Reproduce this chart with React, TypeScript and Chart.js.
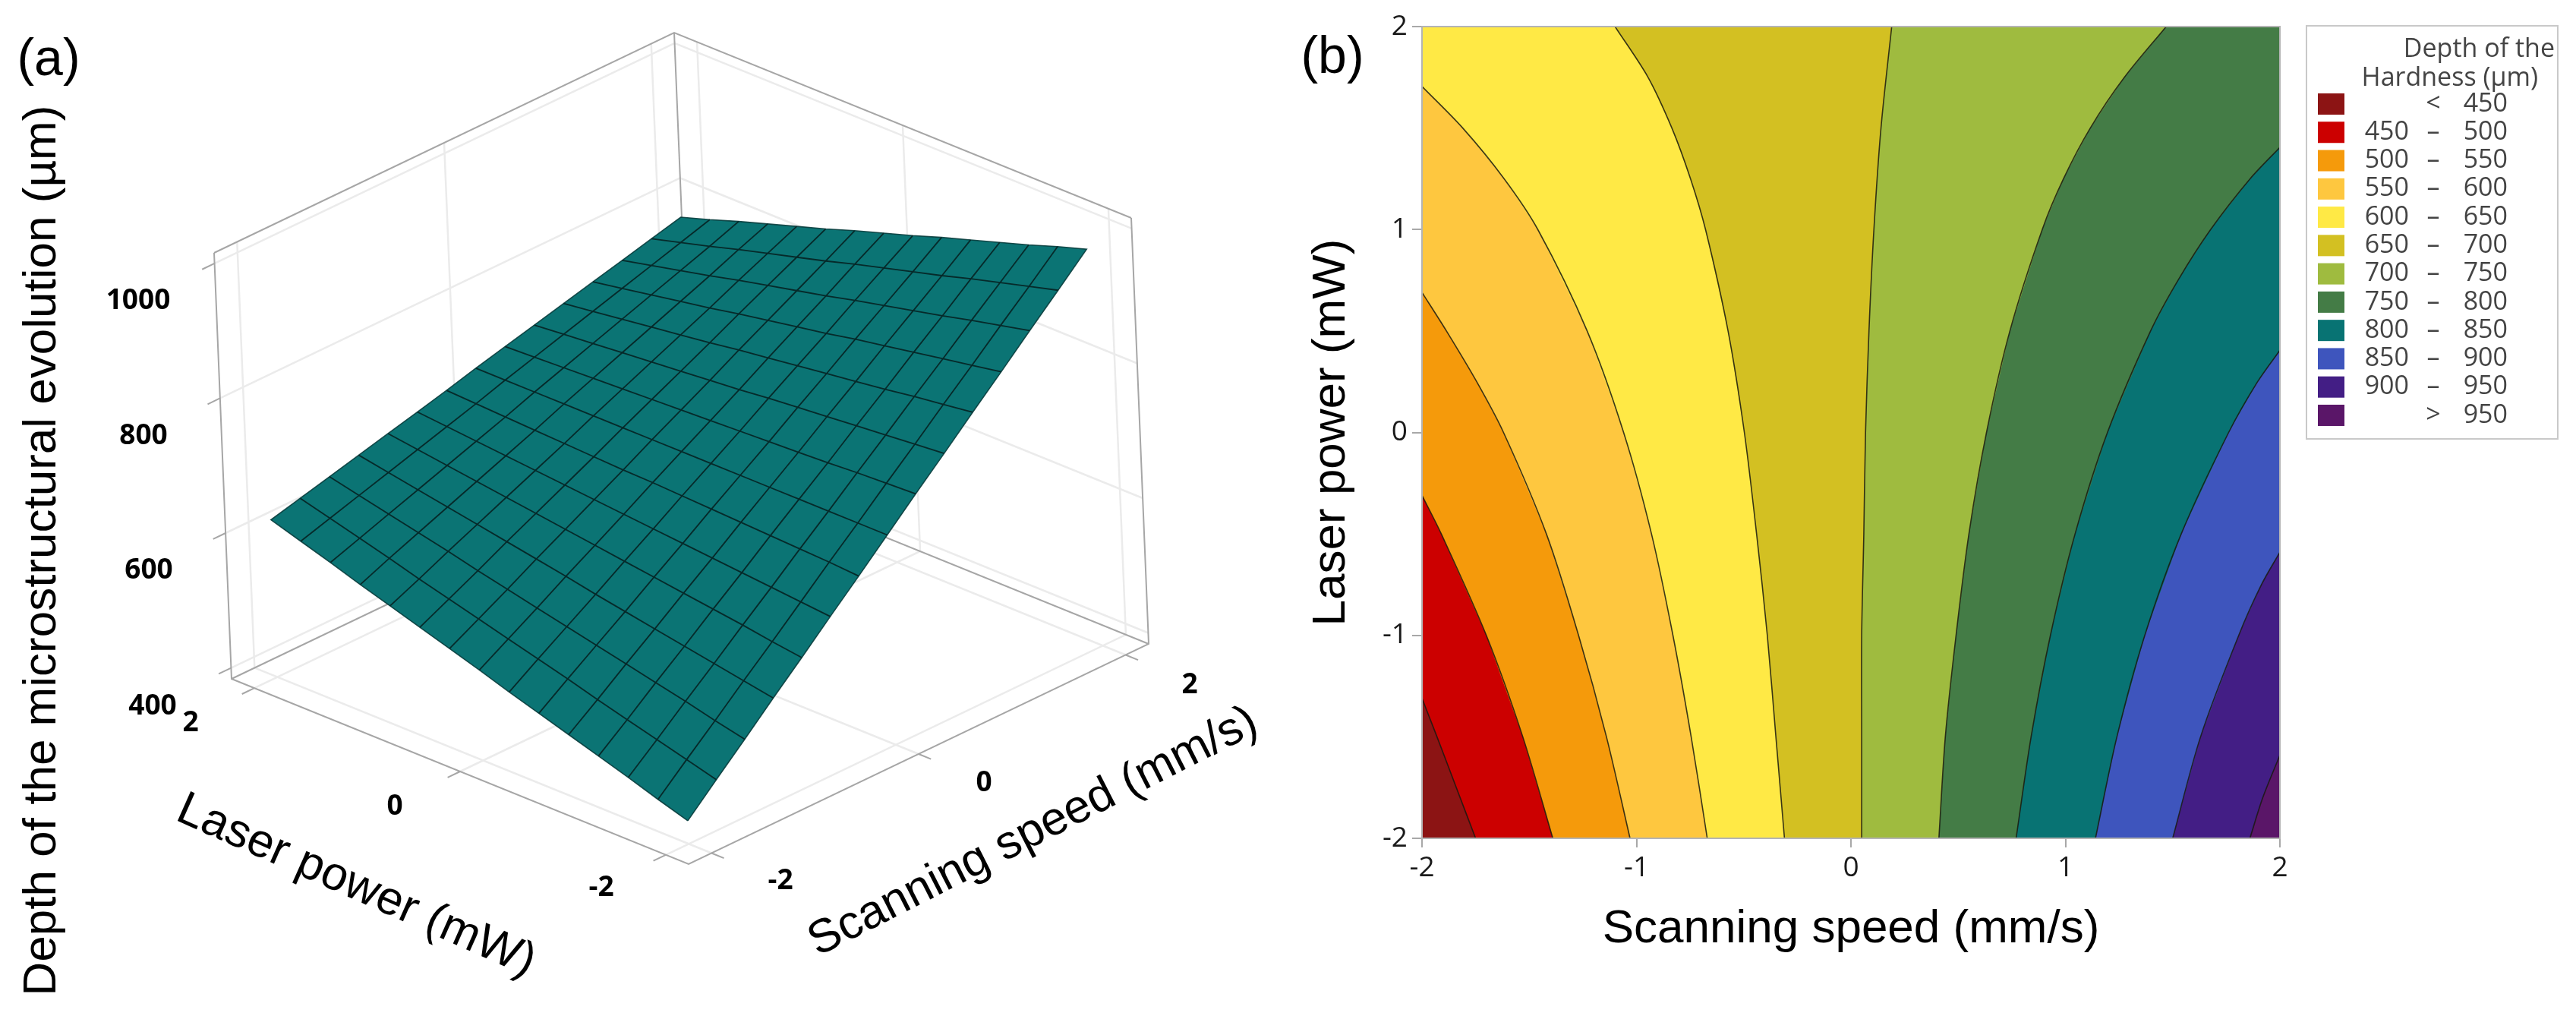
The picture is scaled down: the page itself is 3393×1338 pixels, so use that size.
import React, { useEffect, useRef } from "react";
import { Chart, registerables } from "chart.js";

Chart.register(...registerables);

// ---------- data ----------
const panelLabels = ["(a)", "(b)"];
const speedTitle = "Scanning speed (mm/s)";
const laserTitle = "Laser power (mW)";
const depthTitle = "Depth of the microstructural evolution (µm)";
const legendTitle = ["Depth of the", "Hardness (µm)"];

const laserTicks = [-2, 0, 2];
const speedTicks = [-2, 0, 2];
const depthTicks = [400, 600, 800, 1000];

// surface nodes: rows run from laser -2 to laser 2, columns from speed -2 to speed 2
const laserNodes = [-2, -1.714, -1.429, -1.143, -0.857, -0.571, -0.286, 0, 0.286, 0.571, 0.857, 1.143, 1.429, 1.714, 2];
const speedNodes = [-2, -1.714, -1.429, -1.143, -0.857, -0.571, -0.286, 0, 0.286, 0.571, 0.857, 1.143, 1.429, 1.714, 2];
const surfaceDepth = [
  [418, 458, 497, 537, 576, 616, 655, 695, 735, 774, 814, 853, 893, 932, 972],
  [432, 470, 507, 545, 582, 620, 658, 695, 733, 770, 808, 845, 883, 920, 958],
  [447, 482, 518, 553, 589, 624, 660, 695, 731, 766, 802, 837, 873, 908, 943],
  [461, 494, 528, 561, 595, 628, 662, 695, 728, 762, 795, 829, 862, 896, 929],
  [475, 506, 538, 569, 601, 632, 664, 695, 726, 758, 789, 821, 852, 883, 915],
  [489, 519, 548, 577, 607, 636, 666, 695, 724, 754, 783, 813, 842, 871, 901],
  [503, 531, 558, 585, 613, 640, 668, 695, 722, 750, 777, 804, 832, 859, 886],
  [518, 543, 568, 594, 619, 644, 670, 695, 720, 745, 771, 796, 821, 847, 872],
  [532, 555, 578, 602, 625, 648, 671, 695, 718, 741, 765, 788, 811, 834, 858],
  [546, 567, 588, 610, 631, 652, 673, 695, 716, 737, 758, 780, 801, 822, 843],
  [560, 579, 599, 618, 637, 656, 675, 695, 714, 733, 752, 771, 791, 810, 829],
  [574, 592, 609, 626, 643, 660, 677, 695, 712, 729, 746, 763, 780, 798, 815],
  [589, 604, 619, 634, 649, 664, 679, 695, 710, 725, 740, 755, 770, 785, 801],
  [603, 616, 629, 642, 655, 668, 681, 695, 708, 721, 734, 747, 760, 773, 786],
  [617, 628, 639, 650, 661, 672, 683, 695, 706, 717, 728, 739, 750, 761, 772],
];

// contour lines of panel (b), each as [speed, laser] pairs
const contour450 = [[-1.75, -2], [-1.84, -1.75], [-1.93, -1.5], [-2, -1.31]];
const contour500 = [[-1.39, -2], [-1.53, -1.5], [-1.7, -1], [-1.91, -0.5], [-2, -0.31]];
const contour550 = [[-1.03, -2], [-1.14, -1.5], [-1.27, -1], [-1.42, -0.5], [-1.62, 0], [-1.745, 0.25], [-1.886, 0.5], [-2, 0.69]];
const contour600 = [[-0.67, -2], [-0.745, -1.5], [-0.83, -1], [-0.93, -0.5], [-1.06, 0], [-1.23, 0.5], [-1.46, 1], [-1.617, 1.25], [-1.81, 1.5], [-2, 1.705]];
const contour650 = [[-0.31, -2], [-0.35, -1.5], [-0.39, -1], [-0.44, -0.5], [-0.497, 0], [-0.573, 0.5], [-0.678, 1], [-0.748, 1.25], [-0.835, 1.5], [-0.946, 1.75], [-1.1, 2]];
const contour700 = [[0.05, -2], [0.05, -1.5], [0.05, -1], [0.06, -0.5], [0.068, 0], [0.084, 0.5], [0.107, 1], [0.14, 1.5], [0.19, 2]];
const contour750 = [[0.41, -2], [0.44, -1.5], [0.49, -1], [0.55, -0.5], [0.632, 0], [0.741, 0.5], [0.892, 1], [0.991, 1.25], [1.116, 1.5], [1.275, 1.75], [1.47, 2]];
const contour800 = [[0.77, -2], [0.84, -1.5], [0.93, -1], [1.045, -0.5], [1.196, 0], [1.397, 0.5], [1.525, 0.75], [1.677, 1], [1.861, 1.25], [2, 1.405]];
const contour850 = [[1.14, -2], [1.24, -1.5], [1.37, -1], [1.54, -0.5], [1.761, 0], [1.896, 0.25], [2, 0.405]];
const contour900 = [[1.5, -2], [1.63, -1.5], [1.808, -1], [1.914, -0.75], [2, -0.59]];
const contour950 = [[1.86, -2], [1.92, -1.8], [2, -1.59]];
const contours = [contour450, contour500, contour550, contour600, contour650, contour700, contour750, contour800, contour850, contour900, contour950];

const bandColors = ["#8c1414", "#cc0000", "#f59a0b", "#fec73f", "#ffe945", "#d3c022", "#9fbb3f", "#447c46", "#087373", "#3e55bd", "#431e85", "#5a1668"];
const bandLow = ["", "450", "500", "550", "600", "650", "700", "750", "800", "850", "900", ""];
const bandSign = ["<", "–", "–", "–", "–", "–", "–", "–", "–", "–", "–", ">"];
const bandHigh = ["450", "500", "550", "600", "650", "700", "750", "800", "850", "900", "950", "950"];

// ---------- style ----------
const TEAL = "#0b7474";
const BOX = "#a6a6a6";
const WALL = "#ebebeb";
const ARIAL = '"Liberation Sans", Arial, sans-serif';
const TICKFONT = '"Open Sans", sans-serif';

const W = 3393;
const H = 1338;
const SPLIT = 1700;

// ---------- projection of the 3-D box on the pixel-valued scales of panel (a) ----------
const EDGE = 2.222;
const Z0 = 383.7;
const Z1 = 1015.7;
function project(laser: number, speed: number, depth: number) {
  const s = (EDGE - laser) / (2 * EDGE);
  const t = (speed + EDGE) / (2 * EDGE);
  const w = (depth - Z0) / (Z1 - Z0);
  return { x: 305 + 602 * s + 606 * t - 23 * w, y: 894 + 244 * s - 290 * t - 561 * w };
}

function seg(points: { x: number; y: number }[], color: string, width: number, extra: any = {}) {
  return { data: points, showLine: true, pointRadius: 0, borderColor: color, borderWidth: width, fill: false, tension: 0, ...extra };
}

function surfaceChartDatasets() {
  const out: any[] = [];
  const P = project;
  // wall and floor grid
  depthTicks.forEach((z) => {
    out.push(seg([P(EDGE, -EDGE, z), P(EDGE, EDGE, z), P(-EDGE, EDGE, z)], WALL, 2.5));
  });
  speedTicks.forEach((v) => {
    out.push(seg([P(-EDGE, v, Z0), P(EDGE, v, Z0), P(EDGE, v, Z1)], WALL, 2.5));
  });
  laserTicks.forEach((v) => {
    out.push(seg([P(v, -EDGE, Z0), P(v, EDGE, Z0), P(v, EDGE, Z1)], WALL, 2.5));
  });
  // box edges
  out.push(seg([P(EDGE, -EDGE, Z1), P(EDGE, -EDGE, Z0), P(-EDGE, -EDGE, Z0), P(-EDGE, EDGE, Z0), P(-EDGE, EDGE, Z1)], BOX, 2));
  out.push(seg([P(EDGE, -EDGE, Z1), P(EDGE, EDGE, Z1), P(-EDGE, EDGE, Z1)], BOX, 2));
  out.push(seg([P(EDGE, -EDGE, Z0), P(EDGE, EDGE, Z0), P(-EDGE, EDGE, Z0)], BOX, 2));
  out.push(seg([P(EDGE, EDGE, Z0), P(EDGE, EDGE, Z1)], BOX, 2));
  // tick marks
  const len = 0.12;
  depthTicks.forEach((z) => out.push(seg([P(EDGE, -EDGE, z), P(EDGE, -EDGE - len, z)], BOX, 2)));
  laserTicks.forEach((v) => out.push(seg([P(v, -EDGE, Z0), P(v, -EDGE - len, Z0)], BOX, 2)));
  speedTicks.forEach((v) => out.push(seg([P(-EDGE, v, Z0), P(-EDGE - len, v, Z0)], BOX, 2)));
  // surface
  const n = laserNodes.length;
  const m = speedNodes.length;
  const node = (i: number, j: number) => P(laserNodes[i], speedNodes[j], surfaceDepth[i][j]);
  const outline: { x: number; y: number }[] = [];
  for (let j = 0; j < m; j++) outline.push(node(0, j));
  for (let i = 1; i < n; i++) outline.push(node(i, m - 1));
  for (let j = m - 2; j >= 0; j--) outline.push(node(n - 1, j));
  for (let i = n - 2; i >= 0; i--) outline.push(node(i, 0));
  out.push(seg(outline, "rgba(8,60,60,0.9)", 1.6, { fill: "shape", backgroundColor: TEAL }));
  for (let i = 1; i < n - 1; i++) out.push(seg(speedNodes.map((_, j) => node(i, j)), "#062a2a", 1.8));
  for (let j = 1; j < m - 1; j++) out.push(seg(laserNodes.map((_, i) => node(i, j)), "#062a2a", 1.8));
  return out.map((d, i) => ({ ...d, order: out.length - i }));
}

function contourChartDatasets() {
  const out: any[] = [];
  const toXY = (p: number[]) => ({ x: p[0], y: p[1] });
  const corners = [[-2, -2], [-2, 2], [2, 2], [2, -2]];
  out.push(seg(corners.map(toXY), "transparent", 0, { fill: "shape", backgroundColor: bandColors[0] }));
  contours.forEach((c, k) => {
    const last = c[c.length - 1];
    const closing: number[][] = [];
    if (last[0] === -2) closing.push([-2, 2]);
    if (last[0] < 2) closing.push([2, 2]);
    closing.push([2, -2]);
    out.push(seg([...c, ...closing].map(toXY), "transparent", 0, { fill: "shape", backgroundColor: bandColors[k + 1] }));
  });
  contours.forEach((c) => {
    out.push(seg(c.map(toXY), "rgba(25,25,15,0.85)", 1.6, { tension: 0.3 }));
  });
  return out.map((d, i) => ({ ...d, order: out.length - i }));
}

function rotatedText(ctx: CanvasRenderingContext2D, text: string, x: number, y: number, deg: number, font: string, color = "#000") {
  ctx.save();
  ctx.translate(x, y);
  ctx.rotate((deg * Math.PI) / 180);
  ctx.font = font;
  ctx.fillStyle = color;
  ctx.textAlign = "center";
  ctx.textBaseline = "middle";
  ctx.fillText(text, 0, 0);
  ctx.restore();
}

const surfaceLabels = {
  id: "surfaceLabels",
  afterDraw(chart: any) {
    const ctx: CanvasRenderingContext2D = chart.ctx;
    const bold = `700 37px ${TICKFONT}`;
    rotatedText(ctx, panelLabels[0], 64, 80, 0, `68px ${ARIAL}`);
    rotatedText(ctx, depthTitle, 56, 725, -90, `62px ${ARIAL}`);
    rotatedText(ctx, laserTitle, 469, 1167, 24, `62px ${ARIAL}`);
    rotatedText(ctx, speedTitle, 1361, 1096, -27, `62px ${ARIAL}`);
    const depthPlaces = [[201, 930], [196, 751], [189, 574], [182, 396]];
    depthTicks.forEach((z, i) => rotatedText(ctx, String(z), depthPlaces[i][0], depthPlaces[i][1], 0, bold));
    const laserPlaces = [[792, 1169], [520, 1062], [251, 952]];
    laserTicks.forEach((v, i) => rotatedText(ctx, String(v), laserPlaces[i][0], laserPlaces[i][1], 0, bold));
    const speedPlaces = [[1028, 1160], [1296, 1031], [1567, 902]];
    speedTicks.forEach((v, i) => rotatedText(ctx, String(v), speedPlaces[i][0], speedPlaces[i][1], 0, bold));
  },
};

const contourDecor = {
  id: "contourDecor",
  afterDraw(chart: any) {
    const ctx: CanvasRenderingContext2D = chart.ctx;
    const a = chart.chartArea;
    ctx.save();
    ctx.strokeStyle = "#b4b4b4";
    ctx.lineWidth = 2;
    ctx.strokeRect(a.left, a.top, a.right - a.left, a.bottom - a.top);
    rotatedText(ctx, panelLabels[1], 55, 77, 0, `68px ${ARIAL}`);
    // legend
    const lx = 3038 - SPLIT;
    ctx.strokeStyle = "#c9c9c9";
    ctx.strokeRect(lx, 34, 331, 544);
    const text = "#444";
    const font = `34px ${TICKFONT}`;
    ctx.font = font;
    ctx.fillStyle = text;
    ctx.textBaseline = "middle";
    ctx.textAlign = "right";
    ctx.fillText(legendTitle[0], 3365 - SPLIT, 65);
    ctx.fillText(legendTitle[1], 3343 - SPLIT, 103);
    bandColors.forEach((c, i) => {
      const y = 137 + i * 37.27;
      ctx.fillStyle = c;
      ctx.fillRect(3053 - SPLIT, y - 14, 35, 28);
      ctx.fillStyle = text;
      ctx.textAlign = "right";
      ctx.fillText(bandLow[i], 3173 - SPLIT, y);
      ctx.fillText(bandHigh[i], 3303 - SPLIT, y);
      ctx.textAlign = "center";
      ctx.fillText(bandSign[i], 3205 - SPLIT, y);
    });
    ctx.restore();
  },
};

export default function App() {
  const aRef = useRef<HTMLCanvasElement | null>(null);
  const bRef = useRef<HTMLCanvasElement | null>(null);

  useEffect(() => {
    const chartA = new Chart(aRef.current as HTMLCanvasElement, {
      type: "scatter",
      data: { datasets: surfaceChartDatasets() },
      options: {
        animation: false,
        responsive: false,
        devicePixelRatio: 1,
        events: [],
        layout: { padding: 0 },
        plugins: { legend: { display: false }, tooltip: { enabled: false } },
        scales: {
          x: { type: "linear", display: false, min: 0, max: SPLIT },
          y: { type: "linear", display: false, min: 0, max: H, reverse: true },
        },
      },
      plugins: [surfaceLabels],
    } as any);

    const chartB = new Chart(bRef.current as HTMLCanvasElement, {
      type: "scatter",
      data: { datasets: contourChartDatasets() },
      options: {
        animation: false,
        responsive: false,
        devicePixelRatio: 1,
        events: [],
        layout: { padding: { left: 0, top: 35, right: W - SPLIT - 1303, bottom: 0 } },
        plugins: { legend: { display: false }, tooltip: { enabled: false } },
        scales: {
          x: {
            type: "linear",
            min: -2,
            max: 2,
            afterFit: (s: any) => { s.height = H - 1104; },
            ticks: { stepSize: 1, color: "#1a1a1a", padding: 5, maxRotation: 0, font: { family: "Open Sans", size: 37 } },
            grid: { drawOnChartArea: false, color: "#a8a8a8", lineWidth: 2, tickLength: 12 },
            border: { color: "#a8a8a8", width: 2 },
            title: { display: true, text: speedTitle, color: "#000", font: { family: "Liberation Sans", size: 62 }, padding: { top: 0, bottom: 77 } },
          },
          y: {
            type: "linear",
            min: -2,
            max: 2,
            afterFit: (s: any) => { s.width = 173; },
            ticks: { stepSize: 1, color: "#1a1a1a", padding: 6, font: { family: "Open Sans", size: 37 } },
            grid: { drawOnChartArea: false, color: "#a8a8a8", lineWidth: 2, tickLength: 13 },
            border: { color: "#a8a8a8", width: 2 },
            title: { display: true, text: laserTitle, color: "#000", font: { family: "Liberation Sans", size: 62 }, padding: { top: 17, bottom: 0 } },
          },
        },
      },
      plugins: [contourDecor],
    } as any);

    return () => {
      chartA.destroy();
      chartB.destroy();
    };
  }, []);

  return (
    <div style={{ position: "absolute", left: 0, top: 0, width: W, height: H, background: "#fff", overflow: "hidden" }}>
      <canvas ref={aRef} width={SPLIT} height={H} style={{ position: "absolute", left: 0, top: 0 }} />
      <canvas ref={bRef} width={W - SPLIT} height={H} style={{ position: "absolute", left: SPLIT, top: 0 }} />
    </div>
  );
}
